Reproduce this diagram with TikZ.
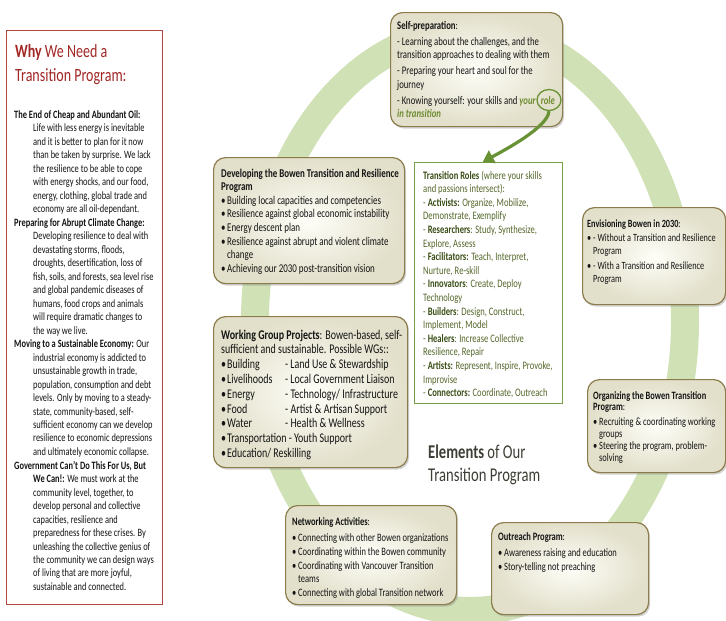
\documentclass[tikz,border=0pt]{standalone}
\usepackage{fontspec}
\setmainfont{Carlito}[FakeStretch=0.75]
\usetikzlibrary{shadows,shapes.geometric,arrows.meta,calc}
\definecolor{ringc}{RGB}{208,225,182}
\definecolor{boxedge}{RGB}{140,124,76}
\definecolor{boxin}{RGB}{254,254,248}
\definecolor{boxout}{RGB}{226,223,202}
\definecolor{panelred}{RGB}{176,70,66}
\definecolor{titlered}{RGB}{162,40,38}
\definecolor{rolegreen}{RGB}{118,160,72}
\definecolor{roletext}{RGB}{84,102,42}
\definecolor{rolebold}{RGB}{58,78,22}
\definecolor{arrowgreen}{RGB}{104,146,52}
\definecolor{italgreen}{RGB}{110,140,50}
\definecolor{elemgray}{RGB}{62,62,54}
\definecolor{bodytext}{RGB}{20,20,20}
\newcommand{\bul}{\par\hangindent=6pt\hangafter=1\makebox[6pt][l]{•}}
\newcommand{\wgline}[2]{\bul\makebox[58pt][l]{#1}#2}
\newcommand{\gi}[1]{\textcolor{italgreen}{\textbf{\textit{#1}}}}
\newcommand{\rb}[1]{\textcolor{rolebold}{\textbf{#1}}}
\tikzset{
  cbox/.style={draw=boxedge, line width=1.2pt, rounded corners=12pt,
    inner color=boxin, outer color=boxout,
    drop shadow={shadow xshift=1.5pt,shadow yshift=-2pt,opacity=0.35},
    anchor=north west, inner sep=0},
  txt/.style={anchor=base west, inner sep=0, text=bodytext},
}
\begin{document}
\begin{tikzpicture}[x=1pt,y=-1pt]
\useasboundingbox (0,0) rectangle (726,621);
\fill[white] (0,0) rectangle (726,621);
% ring
\draw[ringc, line width=28pt] (470,321) ellipse [x radius=215, y radius=290];

% left panel
\node[draw=panelred, line width=1.3pt, minimum width=156pt, minimum height=574pt, anchor=north west, inner sep=0] (panel) at (6,30) {};
\node[txt, text=titlered] (paneltitle) at (15,57) {\parbox[t]{145pt}{\fontsize{18.7}{24.5}\selectfont\textbf{Why} We Need a\\Transition Program:}};
\node[txt] (paneltext) at (14,118) {\parbox[t]{200pt}{\fontsize{11.2}{13.5}\selectfont
\hangindent=19pt\hangafter=1 \textbf{The End of Cheap and Abundant Oil:}\\
Life with less energy is inevitable\\
and it is better to plan for it now\\
than be taken by surprise. We lack\\
the resilience to be able to cope\\
with energy shocks, and our food,\\
energy, clothing, global trade and\\
economy are all oil-dependant.\par
\hangindent=19pt\hangafter=1 \textbf{Preparing for Abrupt Climate Change:}\\
Developing resilience to deal with\\
devastating storms, floods,\\
droughts, desertification, loss of\\
fish, soils, and forests, sea level rise\\
and global pandemic diseases of\\
humans, food crops and animals\\
will require dramatic changes to\\
the way we live.\par
\hangindent=19pt\hangafter=1 \textbf{Moving to a Sustainable Economy:} Our\\
industrial economy is addicted to\\
unsustainable growth in trade,\\
population, consumption and debt\\
levels. Only by moving to a steady-\\
state, community-based, self-\\
sufficient economy can we develop\\
resilience to economic depressions\\
and ultimately economic collapse.\par
\hangindent=19pt\hangafter=1 \textbf{Government Can't Do This For Us, But}\\
\textbf{We Can!:} We must work at the\\
community level, together, to\\
develop personal and collective\\
capacities, resilience and\\
preparedness for these crises. By\\
unleashing the collective genius of\\
the community we can design ways\\
of living that are more joyful,\\
sustainable and connected.}};

% boxes
\node[cbox, minimum width=172pt, minimum height=114pt] (selfprep) at (390,12) {};
\node[cbox, minimum width=191pt, minimum height=126pt] (develop) at (213,157) {};
\node[draw=rolegreen, line width=1.4pt, fill=white, minimum width=148pt, minimum height=241pt, anchor=north west, inner sep=0] (roles) at (414,162) {};
\node[cbox, minimum width=143pt, minimum height=97pt] (envision) at (582,207) {};
\node[cbox, minimum width=194pt, minimum height=151pt] (working) at (213,316) {};
\node[cbox, minimum width=138pt, minimum height=93pt] (organize) at (587,379) {};
\node[cbox, minimum width=171pt, minimum height=99pt] (network) at (285,505) {};
\node[cbox, minimum width=157pt, minimum height=92pt] (outreach) at (491,522) {};

% texts
\node[txt] (selfpreptext) at (397,29) {\parbox[t]{200pt}{\fontsize{11.6}{13}\selectfont\parskip=3.5pt
\textbf{Self-preparation}:\par
- Learning about the challenges, and the\\transition approaches to dealing with them\par
- Preparing your heart and soul for the\\journey\par
- Knowing yourself: your skills and \gi{your}\hspace{5pt}\gi{role}\\\gi{in transition}}};

\node[txt] (developtext) at (221,177) {\parbox[t]{220pt}{\fontsize{11.9}{13.6}\selectfont
\textbf{Developing the Bowen Transition and Resilience}\\\textbf{Program}
\bul Building local capacities and competencies
\bul Resilience against global economic instability
\bul Energy descent plan
\bul Resilience against abrupt and violent climate\\change
\bul Achieving our 2030 post-transition vision}};

\node[txt, text=roletext] (rolestext) at (423,179) {\parbox[t]{200pt}{\fontsize{11.4}{13.6}\selectfont
\rb{Transition Roles} (where your skills\\
and passions intersect):\\
- \rb{Activists:} Organize, Mobilize,\\
Demonstrate, Exemplify\\
- \rb{Researchers}: Study, Synthesize,\\
Explore, Assess\\
- \rb{Facilitators:} Teach, Interpret,\\
Nurture, Re-skill\\
- \rb{Innovators}: Create, Deploy\\
Technology\\
- \rb{Builders}: Design, Construct,\\
Implement, Model\\
- \rb{Healers}: Increase Collective\\
Resilience, Repair\\
- \rb{Artists:} Represent, Inspire, Provoke,\\
Improvise\\
- \rb{Connectors:} Coordinate, Outreach}};

\node[txt] (envisiontext) at (587,227) {\parbox[t]{200pt}{\fontsize{11}{12.6}\selectfont\parskip=2.3pt
\textbf{Envisioning Bowen in 2030}:
\bul - Without a Transition and Resilience\\Program
\bul - With a Transition and Resilience\\Program}};

\node[txt] (workingtext) at (221,339) {\parbox[t]{240pt}{\fontsize{13.3}{14.8}\selectfont
\textbf{Working Group Projects}: Bowen-based, self-\\sufficient and sustainable. Possible WGs::
\wgline{Building}{- Land Use \& Stewardship}
\wgline{Livelihoods}{- Local Government Liaison}
\wgline{Energy}{- Technology/ Infrastructure}
\wgline{Food}{- Artist \& Artisan Support}
\wgline{Water}{- Health \& Wellness}
\bul Transportation - Youth Support
\bul Education/ Reskilling}};

\node[txt] (organizetext) at (593,399) {\parbox[t]{200pt}{\fontsize{11.2}{11.9}\selectfont
\textbf{Organizing the Bowen Transition}\\\textbf{Program}:\par\vspace{2.5pt}
\bul Recruiting \& coordinating working\\groups
\bul Steering the program, problem-\\solving}};

\node[txt] (networktext) at (292,525) {\parbox[t]{220pt}{\fontsize{11.3}{13.7}\selectfont
\textbf{Networking Activities}:\par\vspace{3pt}
\bul Connecting with other Bowen organizations
\bul Coordinating within the Bowen community
\bul Coordinating with Vancouver Transition\\teams
\bul Connecting with global Transition network}};

\node[txt] (outreachtext) at (498,540) {\parbox[t]{200pt}{\fontsize{11.3}{13.7}\selectfont
\textbf{Outreach Program}:\par\vspace{3pt}
\bul Awareness raising and education
\bul Story-telling not preaching}};

\node[txt, text=elemgray] (elements) at (428,458) {\parbox[t]{160pt}{\fontsize{19.5}{23}\selectfont\textbf{Elements} of Our\\Transition Program}};

% role ring and arrow
\node[draw=arrowgreen, line width=1.3pt, ellipse, minimum width=24pt, minimum height=21pt, inner sep=0] (rolering) at (549,100) {};
\draw[arrowgreen, line width=3.2pt, -{Triangle[width=14pt,length=11pt]}]
  (rolering.south) .. controls +(-1,16) and +(22,-12) .. ([xshift=-6pt]roles.north);
\end{tikzpicture}
\end{document}
